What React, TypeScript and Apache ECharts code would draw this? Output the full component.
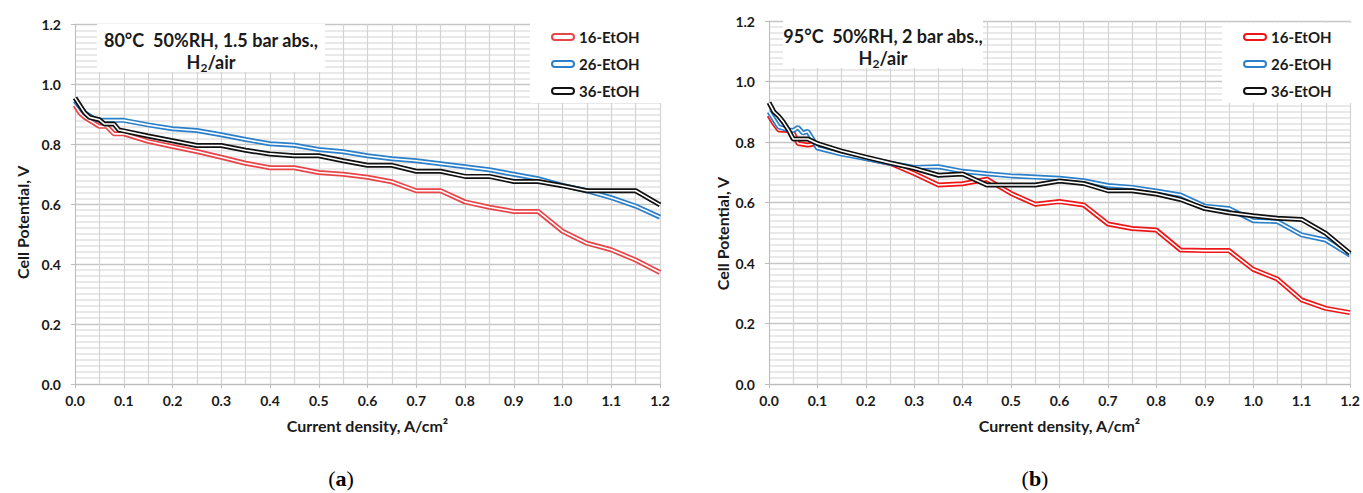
import React, { useEffect, useRef } from "react";
import * as echarts from "echarts";

// ---------- data: chart (a) 80°C ----------
const a16X = [0, 0.01, 0.02, 0.03, 0.05, 0.065, 0.08, 0.1, 0.15, 0.2, 0.25, 0.3, 0.35, 0.4, 0.45, 0.5, 0.55, 0.6, 0.65, 0.7, 0.75, 0.8, 0.85, 0.9, 0.95, 1.0, 1.05, 1.1, 1.15, 1.2];
const a16Y = [0.93, 0.905, 0.89, 0.88, 0.86, 0.86, 0.835, 0.835, 0.81, 0.793, 0.776, 0.757, 0.737, 0.722, 0.722, 0.706, 0.7, 0.69, 0.675, 0.645, 0.645, 0.608, 0.59, 0.576, 0.576, 0.51, 0.47, 0.448, 0.414, 0.372];
const a26X = [0, 0.01, 0.02, 0.03, 0.04, 0.05, 0.1, 0.15, 0.2, 0.25, 0.3, 0.35, 0.4, 0.45, 0.5, 0.55, 0.6, 0.65, 0.7, 0.75, 0.8, 0.85, 0.9, 0.95, 1.0, 1.05, 1.1, 1.15, 1.2];
const a26Y = [0.945, 0.925, 0.905, 0.895, 0.885, 0.88, 0.88, 0.865, 0.852, 0.846, 0.832, 0.816, 0.802, 0.797, 0.783, 0.775, 0.762, 0.752, 0.745, 0.735, 0.725, 0.715, 0.7, 0.685, 0.663, 0.645, 0.622, 0.594, 0.557];
const a36X = [0, 0.01, 0.02, 0.03, 0.05, 0.06, 0.08, 0.09, 0.1, 0.15, 0.2, 0.25, 0.3, 0.35, 0.4, 0.45, 0.5, 0.55, 0.6, 0.65, 0.7, 0.75, 0.8, 0.85, 0.9, 0.95, 1.0, 1.05, 1.1, 1.15, 1.2];
const a36Y = [0.955, 0.93, 0.905, 0.89, 0.882, 0.868, 0.868, 0.848, 0.845, 0.828, 0.812, 0.796, 0.796, 0.78, 0.768, 0.762, 0.762, 0.745, 0.73, 0.73, 0.71, 0.71, 0.693, 0.693, 0.676, 0.676, 0.662, 0.645, 0.645, 0.645, 0.598];

// ---------- data: chart (b) 95°C ----------
const b16X = [0, 0.01, 0.02, 0.04, 0.05, 0.06, 0.08, 0.1, 0.15, 0.2, 0.25, 0.3, 0.35, 0.4, 0.45, 0.5, 0.55, 0.6, 0.65, 0.7, 0.75, 0.8, 0.85, 0.9, 0.95, 1.0, 1.05, 1.1, 1.15, 1.2];
const b16Y = [0.888, 0.862, 0.84, 0.838, 0.83, 0.795, 0.79, 0.795, 0.765, 0.746, 0.73, 0.696, 0.658, 0.662, 0.677, 0.63, 0.594, 0.603, 0.592, 0.529, 0.514, 0.509, 0.443, 0.441, 0.441, 0.379, 0.347, 0.278, 0.25, 0.236];
const b26X = [0, 0.01, 0.02, 0.04, 0.05, 0.06, 0.07, 0.08, 0.09, 0.1, 0.15, 0.2, 0.25, 0.3, 0.35, 0.4, 0.45, 0.5, 0.55, 0.6, 0.65, 0.7, 0.75, 0.8, 0.85, 0.9, 0.95, 1.0, 1.05, 1.1, 1.15, 1.2];
const b26Y = [0.9, 0.875, 0.85, 0.84, 0.838, 0.848, 0.83, 0.835, 0.81, 0.78, 0.76, 0.745, 0.73, 0.716, 0.718, 0.703, 0.695, 0.688, 0.684, 0.68, 0.672, 0.656, 0.65, 0.638, 0.625, 0.588, 0.58, 0.54, 0.537, 0.493, 0.476, 0.426];
const b36X = [0, 0.01, 0.02, 0.03, 0.04, 0.05, 0.07, 0.08, 0.1, 0.15, 0.2, 0.25, 0.3, 0.35, 0.4, 0.45, 0.5, 0.55, 0.6, 0.65, 0.7, 0.75, 0.8, 0.85, 0.9, 0.95, 1.0, 1.05, 1.1, 1.15, 1.2];
const b36Y = [0.93, 0.9, 0.885, 0.865, 0.84, 0.81, 0.81, 0.81, 0.795, 0.77, 0.75, 0.731, 0.713, 0.69, 0.694, 0.658, 0.658, 0.658, 0.671, 0.663, 0.639, 0.639, 0.628, 0.61, 0.58, 0.566, 0.556, 0.548, 0.544, 0.498, 0.432];

const seriesNames = ["16-EtOH", "26-EtOH", "36-EtOH"];
const xAxisName = "Current density, A/cm²";
const yAxisName = "Cell Potential, V";
const condA = "80°C  50%RH, 1.5 bar abs.,";
const condB = "95°C  50%RH, 2 bar abs.,";

const FONT = 'Lato, "Noto Sans", sans-serif';
const TXT = "#1a1a1a";
const RED_A = "#e8454a";
const RED_B = "#ee1616";
const BLUE = "#2b80c9";
const BLACK = "#111111";
const PILL = "path://M3,0 L19,0 A3,3 0 0 1 19,6 L3,6 A3,3 0 0 1 3,0 Z";

const pairs = (xs: number[], ys: number[]) => xs.map((x, i) => [x, ys[i]]);

function doubleLine(name: string, xs: number[], ys: number[], color: string, g: number) {
  const base = {
    type: "line",
    xAxisIndex: g,
    yAxisIndex: g,
    data: pairs(xs, ys),
    symbol: "none",
    showSymbol: false,
    silent: true,
  };
  return [
    { ...base, name, lineStyle: { color, width: 5 }, itemStyle: { color } },
    { ...base, name: name + " (inner)", lineStyle: { color: "#ffffff", width: 1.6 }, itemStyle: { color: "#ffffff" } },
  ];
}

function xAxisCfg(g: number) {
  return {
    type: "value",
    gridIndex: g,
    min: 0,
    max: 1.2,
    interval: 0.1,
    axisLine: { show: true, lineStyle: { color: "#bdbdbd", width: 1 } },
    axisTick: { show: true, length: 4, lineStyle: { color: "#bdbdbd" } },
    axisLabel: { formatter: (v: number) => v.toFixed(1), color: TXT, fontFamily: FONT, fontWeight: "bold", fontSize: 14, margin: 9 },
    splitLine: { show: true, lineStyle: { color: "#d4d4d4", width: 1.2 } },
    minorTick: { show: false, splitNumber: 2 },
    minorSplitLine: { show: true, lineStyle: { color: "#d4d4d4", width: 1.2 } },
    name: xAxisName,
    nameLocation: "middle",
    nameGap: 33,
    nameTextStyle: { color: TXT, fontFamily: FONT, fontWeight: "bold", fontSize: 16 },
  };
}

function yAxisCfg(g: number, gap: number, shift: number) {
  return {
    type: "value",
    gridIndex: g,
    min: 0,
    max: 1.2,
    interval: 0.2,
    axisLine: { show: true, lineStyle: { color: "#bdbdbd", width: 1 } },
    axisTick: { show: true, length: 4, lineStyle: { color: "#bdbdbd" } },
    axisLabel: { formatter: (v: number) => v.toFixed(1), color: TXT, fontFamily: FONT, fontWeight: "bold", fontSize: 14, margin: 14 },
    splitLine: { show: true, lineStyle: { color: "#c6c6c6", width: 1.3 } },
    minorTick: { show: false, splitNumber: 10 },
    minorSplitLine: { show: true, lineStyle: { color: "#e2e2e2", width: 1.6 } },
    name: yAxisName,
    nameLocation: "middle",
    nameGap: gap,
    nameTextStyle: { color: TXT, fontFamily: FONT, fontWeight: "bold", fontSize: 16, padding: [0, shift, 0, 0] },
  };
}

function legendCfg(left: number, red: string) {
  const colors = [red, BLUE, BLACK];
  return {
    left,
    top: 23,
    orient: "vertical",
    backgroundColor: "#ffffff",
    padding: [6, 22, 4, 21],
    itemGap: 11,
    itemWidth: 22,
    itemHeight: 6,
    selectedMode: false,
    textStyle: { color: TXT, fontFamily: FONT, fontWeight: "bold", fontSize: 15, lineHeight: 16 },
    data: seriesNames.map((n, i) => ({
      name: n,
      icon: PILL,
      itemStyle: { color: "#ffffff", borderColor: colors[i], borderWidth: 2 },
    })),
  };
}

function condBox(cx: number, top: number, w: number, line1: string) {
  return {
    type: "group",
    z: 10,
    children: [
      { type: "rect", shape: { x: cx - w / 2, y: top, width: w, height: 48 }, style: { fill: "#ffffff" }, z: 10 },
      {
        type: "text",
        z: 11,
        style: { x: cx, y: top + 16, text: line1, align: "center", verticalAlign: "middle", fill: TXT, font: `bold 18px ${FONT}` },
      },
      {
        type: "text",
        z: 11,
        style: {
          x: cx,
          y: top + 27,
          text: "{t|H}{s|2}{t|/air}",
          align: "center",
          verticalAlign: "top",
          rich: {
            t: { fontFamily: FONT, fontWeight: "bold", fontSize: 18, lineHeight: 22, fill: TXT, color: TXT },
            s: { fontFamily: FONT, fontWeight: "bold", fontSize: 12, lineHeight: 13, verticalAlign: "bottom", fill: TXT, color: TXT },
          },
        },
      },
    ],
  };
}

function subLabel(cx: number, letter: string) {
  return {
    type: "text",
    z: 10,
    style: {
      x: cx,
      y: 478,
      text: `{p|(}{b|${letter}}{p|)}`,
      align: "center",
      verticalAlign: "middle",
      rich: {
        p: { fontFamily: '"Liberation Serif", serif', fontSize: 22, fill: "#000", color: "#000" },
        b: { fontFamily: '"Liberation Serif", serif', fontSize: 22, fontWeight: "bold", fill: "#000", color: "#000" },
      },
    },
  };
}

export default function App() {
  const ref = useRef<HTMLDivElement>(null);
  useEffect(() => {
    if (!ref.current) return;
    const chart = echarts.init(ref.current, null, { renderer: "svg" });
    chart.setOption({
      animation: false,
      backgroundColor: "#ffffff",
      grid: [
        { left: 75, right: 1363 - 660, top: 24.5, bottom: 493 - 384 },
        { left: 769, right: 1363 - 1350, top: 21, bottom: 493 - 384 },
      ],
      xAxis: [xAxisCfg(0), xAxisCfg(1)],
      yAxis: [yAxisCfg(0, 45, 36), yAxisCfg(1, 39, 62)],
      legend: [legendCfg(530, RED_A), legendCfg(1222, RED_B)],
      series: [
        ...doubleLine(seriesNames[0], a16X, a16Y, RED_A, 0),
        ...doubleLine(seriesNames[1], a26X, a26Y, BLUE, 0),
        ...doubleLine(seriesNames[2], a36X, a36Y, BLACK, 0),
        ...doubleLine(seriesNames[0], b16X, b16Y, RED_B, 1),
        ...doubleLine(seriesNames[1], b26X, b26Y, BLUE, 1),
        ...doubleLine(seriesNames[2], b36X, b36Y, BLACK, 1),
      ],
      graphic: [condBox(211, 24, 228, condA), condBox(883, 20, 200, condB), subLabel(341, "a"), subLabel(1035, "b")],
    });
    return () => chart.dispose();
  }, []);
  return <div ref={ref} style={{ position: "absolute", left: 0, top: 0, width: 1363, height: 493 }} />;
}
